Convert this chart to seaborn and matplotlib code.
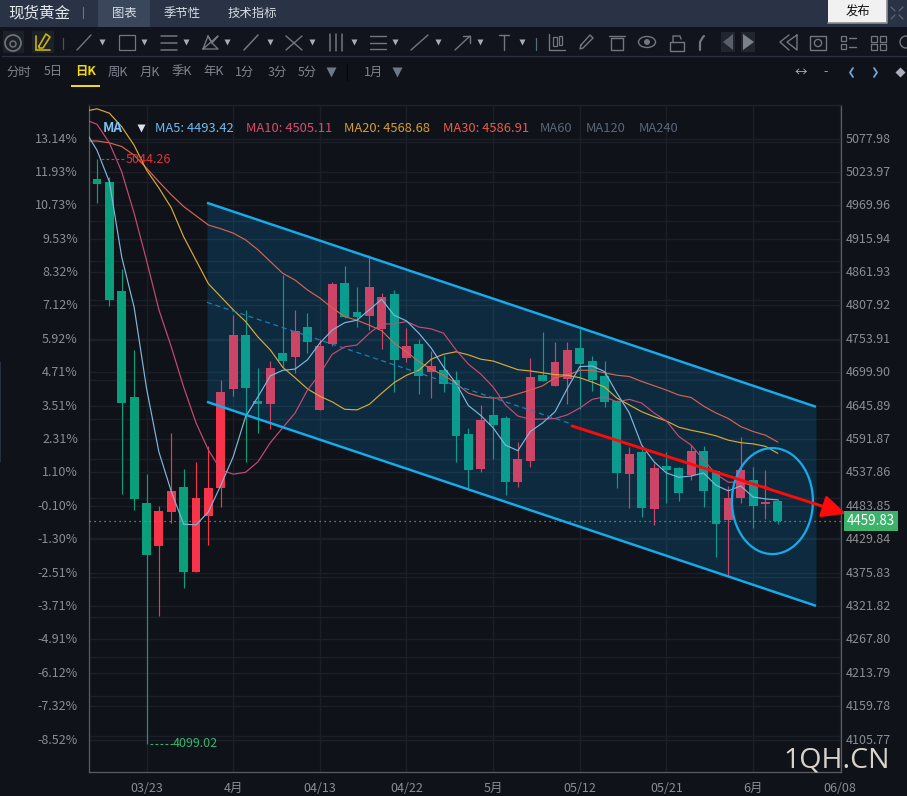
import numpy as np
import pandas as pd
import matplotlib
matplotlib.use('Agg')
import matplotlib.pyplot as plt
from matplotlib.patches import Ellipse, Rectangle, Circle, Polygon
from matplotlib.transforms import ScaledTranslation
import seaborn as sns

# daily candles
kind = ['d', 'd', 'd', 'd', 'd', 'u', 'u', 'd', 'u', 'u', 'u', 'u', 'd', 'd', 'u', 'd', 'u', 'd', 'u', 'u',
        'd', 'd', 'u', 'u', 'd', 'u', 'd', 'u', 'd', 'd', 'd', 'u', 'd', 'd', 'u', 'u', 'd', 'u', 'u', 'd',
        'd', 'd', 'd', 'u', 'd', 'u', 'd', 'd', 'u', 'd', 'd', 'u', 'u', 'd', 'u', 'd']
open_px = [5012, 5008, 4831, 4660, 4488, 4419, 4474, 4514, 4377, 4468, 4513, 4673, 4760, 4654, 4649, 4731, 4725, 4773, 4639, 4746,
           4844, 4797, 4791, 4770, 4826, 4723, 4745, 4701, 4703, 4687, 4600, 4544, 4631, 4626, 4523, 4557, 4695, 4678, 4689, 4739,
           4718, 4694, 4653, 4536, 4571, 4479, 4548, 4545, 4534, 4572, 4540, 4461, 4497, 4525, 4486, 4491]
close_px = [5005, 4817, 4650, 4495, 4405, 4475, 4508, 4377, 4496, 4513, 4668, 4760, 4675, 4649, 4707, 4718, 4767, 4748, 4742, 4843,
            4789, 4789, 4837, 4822, 4719, 4742, 4693, 4710, 4681, 4596, 4542, 4623, 4615, 4523, 4560, 4692, 4686, 4716, 4736, 4714,
            4688, 4651, 4537, 4568, 4481, 4545, 4542, 4505, 4572, 4507, 4455, 4496, 4542, 4484, 4490, 4459.83]
high_px = [5044.26, 5015, 4867, 4736, 4535, 4483, 4602, 4543, 4555, 4581, 4687, 4792, 4801, 4707, 4718, 4857, 4801, 4796, 4754, 4846,
           4872, 4838, 4890, 4828, 4833, 4772, 4754, 4734, 4728, 4702, 4610, 4647, 4658, 4629, 4587, 4723, 4765, 4749, 4749, 4770,
           4726, 4718, 4655, 4579, 4577, 4553, 4571, 4547, 4582, 4581, 4541, 4516, 4595, 4546, 4542, 4495]
low_px = [4974, 4807, 4503, 4477, 4099.02, 4306, 4456, 4351, 4376, 4421, 4482, 4662, 4555, 4602, 4608, 4708, 4699, 4731, 4639, 4742,
          4788, 4773, 4768, 4737, 4668, 4716, 4665, 4659, 4668, 4555, 4511, 4539, 4560, 4502, 4515, 4547, 4686, 4678, 4649, 4640,
          4670, 4644, 4513, 4481, 4465, 4453, 4489, 4492, 4525, 4482, 4401, 4370, 4489, 4448, 4462, 4454]

# moving averages, first value sits one bar before the first candle
ma5 = [5092, 5059, 5008, 4886, 4805, 4674, 4571, 4507, 4454, 4453, 4474, 4517, 4563, 4628, 4660, 4694, 4703, 4705, 4720, 4747,
       4768, 4780, 4784, 4801, 4818, 4792, 4783, 4763, 4739, 4708, 4682, 4646, 4630, 4610, 4582, 4573, 4604, 4618, 4636, 4674,
       4709, 4710, 4701, 4666, 4634, 4582, 4555, 4537, 4530, 4532, 4537, 4517, 4508, 4516, 4498, 4495, 4493.42]
ma10 = [5109, 5101, 5071, 5024, 4957, 4881, 4801, 4741, 4676, 4618, 4574, 4542, 4535, 4538, 4555, 4586, 4610, 4634, 4671, 4697,
        4729, 4741, 4744, 4763, 4778, 4778, 4782, 4773, 4770, 4763, 4736, 4713, 4697, 4676, 4647, 4629, 4624, 4624, 4625, 4631,
        4642, 4656, 4660, 4652, 4656, 4650, 4634, 4621, 4596, 4582, 4558, 4535, 4522, 4522, 4516, 4515, 4505.11]
ma20 = [5122, 5126, 5119, 5097, 5067, 5027, 4998, 4966, 4919, 4881, 4843, 4822, 4801, 4782, 4757, 4736, 4708, 4691, 4673, 4661,
        4652, 4640, 4639, 4648, 4666, 4683, 4695, 4703, 4721, 4729, 4733, 4728, 4721, 4718, 4711, 4704, 4702, 4699, 4696, 4695,
        4691, 4684, 4676, 4658, 4647, 4636, 4628, 4621, 4611, 4606, 4602, 4597, 4590, 4586, 4584, 4580, 4568.68]
ma30 = [5074, 5074, 5071, 5065, 5051, 5030, 5008, 4987, 4968, 4953, 4938, 4932, 4925, 4914, 4898, 4879, 4860, 4849, 4833, 4820,
        4804, 4790, 4784, 4776, 4767, 4747, 4733, 4717, 4705, 4695, 4682, 4666, 4660, 4658, 4659, 4665, 4671, 4678, 4691, 4695,
        4703, 4703, 4699, 4695, 4693, 4685, 4678, 4671, 4663, 4659, 4645, 4634, 4625, 4612, 4604, 4598, 4586.91]

price_ticks = [5077.98, 5023.97, 4969.96, 4915.94, 4861.93, 4807.92, 4753.91, 4699.90, 4645.89, 4591.87,
               4537.86, 4483.85, 4429.84, 4375.83, 4321.82, 4267.80, 4213.79, 4159.78, 4105.77]
pct_labels = ['13.14%', '11.93%', '10.73%', '9.53%', '8.32%', '7.12%', '5.92%', '4.71%', '3.51%', '2.31%',
              '1.10%', '-0.10%', '-1.30%', '-2.51%', '-3.71%', '-4.91%', '-6.12%', '-7.32%', '-8.52%']
round_grid = [4112, 4176, 4240, 4304, 4368, 4432, 4496, 4560, 4624, 4688, 4752, 4816, 4880, 4944, 5008, 5072]
date_pos = [4, 11, 18, 25, 32, 39, 46, 53, 60]
date_labels = ['03/23', '4月', '04/13', '04/22', '5月', '05/12', '05/21', '6月', '06/08']

channel_x = [8.885, 58.08]
channel_top = [4974, 4644]
channel_bottom = [4652, 4322]
channel_mid = [4813, 4616]
channel_mid_x = [8.885, 38.37]
arrow_from = (38.37, 4613)
arrow_to = (60.5, 4471)
circle_centre = (54.56, 4491.5)
circle_w, circle_h = 6.54, 171.5
last_price = 4459.83
high_mark, low_mark = 5044.26, 4099.02

BG = '#0F1319'
GRID = '#1B2028'
UP = '#F8334A'
DOWN = '#0A9F7B'
TICK = '#8A8D92'
ICON = '#71767F'

sns.set_theme(style='dark', rc={'axes.facecolor': BG, 'figure.facecolor': BG})
plt.rcParams['font.family'] = ['Noto Sans CJK SC', 'DejaVu Sans']
plt.rcParams['axes.unicode_minus'] = False

W, H = 907, 796
fig = plt.figure(figsize=(W / 100, H / 100), dpi=100)
ax = fig.add_axes([89 / W, 1 - 772 / H, 752 / W, 667 / H])
ax.set_xlim(-0.646, 60.1)
ax.set_ylim(4053.2, 5132.2)

df = pd.DataFrame({'open': open_px, 'close': close_px, 'high': high_px, 'low': low_px, 'kind': kind})
df['i'] = np.arange(len(df))
df['colour'] = df['kind'].map({'u': UP, 'd': DOWN})
ax.vlines(df['i'], df['low'], df['high'], colors=df['colour'], lw=0.85, zorder=2)
ax.bar(df['i'], (df['close'] - df['open']).abs(), bottom=df[['open', 'close']].min(axis=1), width=0.72,
       color=df['colour'], edgecolor='none', zorder=2)

# channel
ax.fill_between(channel_x, channel_top, channel_bottom, color='#0D97EA', alpha=0.18, lw=0, zorder=3)

ma_x = np.arange(-1, 55 + 1)
for vals, col in [(ma30, '#D9624F'), (ma20, '#D9A93A'), (ma10, '#C94A72'), (ma5, '#7FB7DC')]:
    sns.lineplot(x=ma_x, y=vals, ax=ax, color=col, lw=0.85, zorder=4, errorbar=None, sort=False)

ax.plot(channel_x, channel_top, color='#14ACEC', lw=1.75, zorder=5, solid_capstyle='butt')
ax.plot(channel_x, channel_bottom, color='#14ACEC', lw=1.75, zorder=5, solid_capstyle='butt')
ax.plot(channel_mid_x, channel_mid, color='#1B7EB6', lw=0.9, ls=(0, (4, 3)), zorder=4)
ax.add_patch(Ellipse(circle_centre, circle_w, circle_h, fill=False, ec='#14ACEC', lw=1.6, zorder=6))

ax.axhline(last_price, color='#5BAF80', lw=0.9, ls=(0, (1, 3)), zorder=3)
ax.text(60.58, last_price, '%.2f' % last_price, color='white', fontsize=9.6, va='center', ha='left', clip_on=False,
        bbox=dict(fc='#3CB36B', ec='none', boxstyle='square,pad=0.22'), zorder=8)
ax.annotate('', xy=arrow_to, xytext=arrow_from, annotation_clip=False, zorder=9,
            arrowprops=dict(arrowstyle='-|>,head_length=0.72,head_width=0.34', color='#FF0A0A', lw=2.1,
                            shrinkA=0, shrinkB=0, mutation_scale=20, clip_on=False))

# high and low marks
ax.plot([0.3, 2.3], [high_mark, high_mark], color='#E0323C', lw=0.8, ls=(0, (2.5, 2)), zorder=4)
ax.text(2.35, high_mark, '%.2f' % high_mark, color='#E0323C', fontsize=9, va='center', ha='left', zorder=4)
ax.plot([4.25, 6.1], [low_mark, low_mark], color='#3CB36B', lw=0.8, ls=(0, (2.5, 2)), zorder=4)
ax.text(6.1, low_mark, '%.2f' % low_mark, color='#3CB36B', fontsize=9, va='center', ha='left', zorder=4)

# axes, ticks, grid
ax.set_xticks(date_pos)
ax.set_xticklabels(date_labels, color=TICK, fontsize=9)
ax.set_yticks(price_ticks)
ax.set_yticklabels(pct_labels, color=TICK, fontsize=9)
ax.set_yticks(round_grid, minor=True)
ax.tick_params(axis='both', which='both', length=0)
ax.tick_params(axis='y', pad=8)
ax.tick_params(axis='x', pad=7)
ax.grid(True, which='both', color=GRID, lw=1.0, zorder=0)
ax.set_axisbelow(True)
ax.spines['top'].set_color('#20252D')
ax.spines['left'].set_color('#5A5C60')
ax.spines['bottom'].set_color('#5A5C60')
ax.spines['right'].set_color('#5A5C60')
for sp in ax.spines.values():
    sp.set_linewidth(0.9)

ax2 = ax.twinx()
ax2.set_ylim(ax.get_ylim())
ax2.set_yticks(price_ticks)
ax2.set_yticklabels(['%.2f' % p for p in price_ticks], color=TICK, fontsize=9)
ax2.tick_params(axis='y', length=0, pad=3.5)
ax2.grid(False)
for sp in ax2.spines.values():
    sp.set_visible(False)
ax2.set_zorder(ax.get_zorder() - 1)
ax.set_zorder(2)
ax.patch.set_alpha(0)
ax2.patch.set_alpha(1)
ax2.patch.set_facecolor(BG)

# Noto sits a bit low in its box, lift the price and percent labels
lift = ScaledTranslation(0, 1.0 / 100, fig.dpi_scale_trans)
for lbl in ax.get_yticklabels() + ax2.get_yticklabels():
    lbl.set_transform(lbl.get_transform() + lift)

# page furniture in pixel units
ui = fig.add_axes([0, 0, 1, 1], zorder=10)
ui.set_xlim(0, W)
ui.set_ylim(H, 0)
ui.axis('off')
ui.patch.set_alpha(0)


def rect(x, y, w, h, fc, **kw):
    ui.add_patch(Rectangle((x, y), w, h, fc=fc, ec=kw.pop('ec', 'none'), lw=kw.pop('lw', 0), **kw))


def label(x, y, s, col='#8D9097', size=8.8, ha='center', **kw):
    ui.text(x, y, s, color=col, fontsize=size, ha=ha, va='center', **kw)


def stroke(xs, ys, col=ICON, lw=1.0, **kw):
    ui.plot(xs, ys, color=col, lw=lw, solid_capstyle='round', **kw)


rect(0, 0, W, 27, '#2A3345')
rect(98, 0, 52, 27, '#3A475B')
rect(0, 27, W, 29, '#11141C')
rect(0, 362, 1.2, 100, '#24303F')
stroke([2, W], [56, 56], '#2B2F3E', 0.9)
label(8, 13, '现货黄金', '#E4E7EC', 11.2, ha='left')
stroke([83, 83], [7, 18], '#6D7687', 0.8)
label(124, 13, '图表', '#D7DCE4', 8.9)
label(182, 13, '季节性', '#D7DCE4', 8.9)
label(252, 13, '技术指标', '#D7DCE4', 8.9)
rect(828, 0, 59, 23, '#F1F1F1')
stroke([828, 887, 887], [23, 23, 0], '#8D8D8D', 1.2)
label(858, 12, '发布', '#111111', 8.9)
for dx, dy in [(-1, -1), (1, -1), (-1, 1), (1, 1)]:
    stroke([897 + dx * 2, 897 + dx * 6], [13 + dy * 2, 13 + dy * 6], '#5E6675', 0.9)

# toolbar icons, rough shapes
rect(3, 31, 21, 22, '#1C2027')
rect(32, 31, 22, 22, '#1C2027')
ui.add_patch(Circle((13, 43), 8, fill=False, ec=ICON, lw=1.2))
ui.add_patch(Circle((13, 44), 3, fill=False, ec=ICON, lw=1.0))
stroke([36, 50], [50, 50], '#C9B20F', 1.2)
stroke([36, 36], [36, 50], '#C9B20F', 1.2)
stroke([39, 46, 50, 43, 39, 39], [46, 34, 37, 48, 48, 46], '#C9B20F', 1.2)
stroke([63, 63], [38, 49], '#4A5060', 0.9)
stroke([77, 91], [50, 35], ICON)
rect(119, 35, 16, 15, 'none', ec=ICON, lw=0.9)
for y in [36, 43, 50]:
    stroke([161, 177], [y, y], ICON, 1.1)
stroke([203, 208, 212, 218, 203, 218, 212, 208], [49, 36, 43, 36, 49, 49, 43, 36], ICON)
stroke([244, 258], [50, 35], ICON, 1.1)
stroke([286, 302], [36, 50], ICON)
stroke([286, 302], [50, 36], ICON)
for x in [330, 336, 342]:
    stroke([x, x], [34, 51], ICON, 1.1)
for y in [36, 43, 49]:
    stroke([370, 386], [y, y], ICON, 1.0)
stroke([411, 420, 428], [50, 42, 35], ICON)
stroke([455, 470], [50, 36], ICON)
stroke([463, 470, 470], [36, 36, 43], ICON)
stroke([499, 509], [35, 35], ICON)
stroke([504, 504], [35, 50], ICON)
stroke([536, 536], [38, 50], '#55707C', 0.9)
stroke([549, 549, 565], [34, 50, 50], ICON)
rect(553, 37, 4, 9, 'none', ec=ICON, lw=0.9)
rect(559, 36, 3, 9, 'none', ec=ICON, lw=0.9)
stroke([581, 590, 593, 583, 580, 581], [45, 35, 38, 48, 49, 45], ICON)
rect(611, 38, 12, 12, 'none', ec=ICON, lw=1.0)
stroke([609, 625], [36, 36], ICON)
ui.add_patch(Ellipse((647, 42), 17, 11, fill=False, ec=ICON, lw=1.0))
ui.add_patch(Circle((647, 42), 3, fc=ICON, ec='none'))
rect(670, 42, 14, 9, 'none', ec=ICON, lw=1.0)
stroke([673, 673, 680, 681], [42, 36, 36, 39], ICON)
stroke([700, 700, 703, 704], [50, 42, 37, 36], ICON, 1.6)
rect(721, 32, 14, 20, '#21252D')
rect(741, 32, 14, 20, '#21252D')
ui.add_patch(Polygon([[733, 34], [733, 50], [723, 42]], fc='#5A5F69', ec='none'))
ui.add_patch(Polygon([[743, 34], [743, 50], [754, 42]], fc='#7C818B', ec='none'))
stroke([789, 780, 789], [35, 42, 50], ICON)
stroke([797, 787, 797, 797], [35, 42, 50, 35], ICON)
rect(810, 36, 16, 14, 'none', ec=ICON, lw=1.0)
ui.add_patch(Circle((818, 43), 3.6, fill=False, ec=ICON, lw=1.0))
rect(841, 36, 5, 5, 'none', ec=ICON, lw=0.9)
rect(841, 44, 5, 5, 'none', ec=ICON, lw=0.9)
stroke([849, 856], [38, 38], ICON)
stroke([849, 856], [47, 47], ICON)
for gx in [871, 880]:
    for gy in [36, 44]:
        rect(gx, gy, 6, 6, 'none', ec=ICON, lw=0.9)
ui.add_patch(Circle((906, 42), 6, fill=False, ec=ICON, lw=1.0))
carets = [102, 144, 186, 227, 270, 312, 354, 395, 438, 480, 522]
ui.plot(carets, [42] * len(carets), ls='none', marker='v', ms=4.2, color='#A8ACB3', mec='none')

# period row
for x, s in [(19, '分时'), (53, '5日'), (118, '周K'), (150, '月K'), (182, '季K'), (214, '年K'),
             (245, '1分'), (277, '3分'), (307, '5分'), (374, '1月')]:
    label(x, 72, s, '#7F8590', 8.9)
label(86, 72, '日K', '#F5D90A', 8.9, fontweight='bold')
rect(71, 85, 29, 2, '#F5D90A')
stroke([347, 347], [64, 80], '#05070A', 1.0)
ui.plot([331, 397], [72, 72], ls='none', marker='v', ms=7, color='#6F7887', mec='none')
label(801, 72, '↔', '#A9B0BB', 9)
label(826, 72, '-', '#9AA4B2', 9)
stroke([853, 850, 853], [68, 72.5, 77], '#6EA5DB', 1.3)
stroke([874, 877, 874], [68, 72.5, 77], '#6EA5DB', 1.3)
ui.plot([900], [72], ls='none', marker='D', ms=5, color='#A9B0BB', mec='none')

# MA legend
label(103, 128, 'MA', '#7CC4F6', 9.6, ha='left', fontweight='bold')
ui.plot([141], [128], ls='none', marker='v', ms=6, color='#D8E2EC', mec='none')
label(155, 128, 'MA5: 4493.42', '#71BAEF', 9.3, ha='left')
label(246, 128, 'MA10: 4505.11', '#DC4A6C', 9.3, ha='left')
label(344, 128, 'MA20: 4568.68', '#D69E2E', 9.3, ha='left')
label(443, 128, 'MA30: 4586.91', '#E95B49', 9.3, ha='left')
label(540, 128, 'MA60', '#59667A', 9.3, ha='left')
label(586, 128, 'MA120', '#59667A', 9.3, ha='left')
label(639, 128, 'MA240', '#59667A', 9.3, ha='left')

# watermark
label(783, 760, '1QH.CN', '#D8D2CB', 20.5, ha='left', family=['Open Sans', 'DejaVu Sans'])

fig.savefig('out.png', dpi=100, facecolor=BG)
